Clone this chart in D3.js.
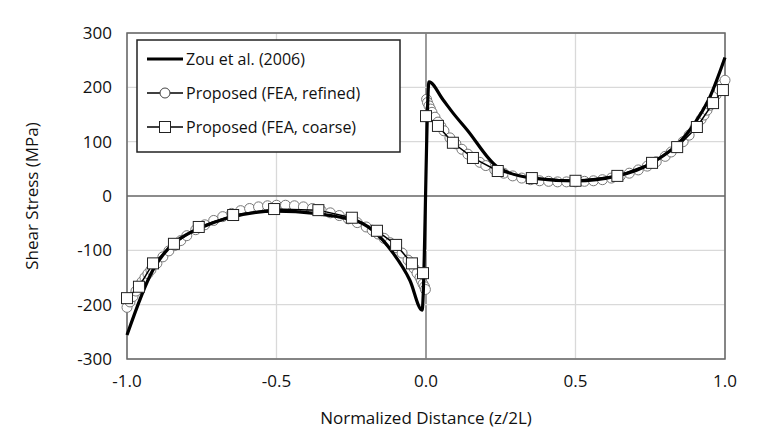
<!DOCTYPE html>
<html><head><meta charset="utf-8">
<script src="https://cdn.jsdelivr.net/npm/d3@7"></script>
<style>body{margin:0;background:#fff}text{font-family:"Open Sans","Noto Sans",sans-serif;fill:#111}</style>
</head><body><div id="chart"></div>
<script>
const zouX = [-1, -0.913, -0.756, -0.5, -0.244, -0.11, -0.054, -0.013, 0.01, 0.057, 0.09, 0.137, 0.24, 0.354, 0.5, 0.64, 0.756, 0.883, 0.95, 1.0];
const zouY = [-256, -136, -59, -28, -44, -105, -155, -210, 210, 177, 153, 122, 53, 33, 28, 37, 61, 122, 183, 255];

const refX = [-1,-0.99,-0.98,-0.97,-0.96,-0.95,-0.94,-0.93,-0.92,-0.90,-0.88,-0.86,-0.84,-0.82,-0.80,-0.77,-0.74,-0.71,-0.68,-0.65,-0.62,-0.59,-0.56,-0.53,-0.50,-0.47,-0.44,-0.41,-0.38,-0.35,-0.32,-0.29,-0.26,-0.23,-0.20,-0.18,-0.16,-0.14,-0.12,-0.10,-0.08,-0.06,-0.05,-0.04,-0.03,-0.02,-0.015,-0.01,-0.005,-0.002,
  0.002,0.005,0.01,0.015,0.02,0.03,0.04,0.05,0.06,0.08,0.10,0.12,0.14,0.16,0.18,0.20,0.23,0.26,0.29,0.32,0.35,0.38,0.41,0.44,0.47,0.50,0.53,0.56,0.59,0.62,0.65,0.68,0.71,0.74,0.77,0.80,0.82,0.84,0.86,0.88,0.90,0.92,0.93,0.94,0.95,0.96,0.97,0.98,0.99,1.0];
const refY = [-205,-195,-185,-175,-165,-158,-150,-143,-136,-124,-112,-101,-91,-82,-73,-62,-53,-45,-38,-32,-27,-23,-20,-18,-17,-17,-18,-20,-23,-27,-31,-36,-42,-49,-57,-63,-70,-78,-86,-95,-105,-118,-125,-133,-142,-150,-156,-162,-167,-172,
  178,172,166,160,154,145,136,128,120,107,96,86,77,69,62,56,48,42,37,33,30,28,27,26,26,26,27,28,30,33,37,42,48,55,63,73,81,90,100,112,126,141,149,158,167,176,186,196,205,213];

const coarseX = [-1, -0.96, -0.913, -0.843, -0.76, -0.645, -0.508, -0.36, -0.248, -0.164, -0.1, -0.047, -0.01,
  0.0, 0.04, 0.09, 0.157, 0.24, 0.354, 0.5, 0.64, 0.756, 0.84, 0.906, 0.96, 0.993];
const coarseY = [-188, -167, -124, -88, -57, -35, -24, -26, -40, -64, -90, -124, -142,
  147, 129, 98, 70, 46, 33, 28, 37, 61, 90, 127, 171, 195];

const xTicks = [-1, -0.5, 0, 0.5, 1];
const yTicks = [-300, -200, -100, 0, 100, 200, 300];
const legendLabels = ["Zou et al. (2006)", "Proposed (FEA, refined)", "Proposed (FEA, coarse)"];

const W = 772, H = 445;
const m = {left: 127, right: 47, top: 33, bottom: 86};
const svg = d3.select('#chart').append('svg').attr('width', W).attr('height', H);
const x = d3.scaleLinear().domain([-1, 1]).range([m.left, W - m.right]);
const y = d3.scaleLinear().domain([-300, 300]).range([H - m.bottom, m.top]);

// grid
svg.append('g').selectAll('line').data(xTicks).enter().append('line')
  .attr('x1', d => x(d)).attr('x2', d => x(d)).attr('y1', y(-300)).attr('y2', y(300))
  .attr('stroke', d => d === 0 ? '#666' : '#d9d9d9').attr('stroke-width', 1.3);
svg.append('g').selectAll('line').data(yTicks).enter().append('line')
  .attr('x1', x(-1)).attr('x2', x(1)).attr('y1', d => y(d)).attr('y2', d => y(d))
  .attr('stroke', d => d === 0 ? '#666' : '#d9d9d9').attr('stroke-width', 1.3);
svg.append('rect').attr('x', x(-1)).attr('y', y(300)).attr('width', x(1) - x(-1)).attr('height', y(-300) - y(300))
  .attr('fill', 'none').attr('stroke', '#666').attr('stroke-width', 1.5);

// tick labels
svg.append('g').selectAll('text').data(xTicks).enter().append('text')
  .attr('x', d => x(d)).attr('y', y(-300) + 28).attr('text-anchor', 'middle').attr('font-size', 17)
  .text(d => d.toFixed(1));
svg.append('g').selectAll('text').data(yTicks).enter().append('text')
  .attr('x', x(-1) - 15).attr('y', d => y(d) + 6).attr('text-anchor', 'end').attr('font-size', 17)
  .text(d => d);
svg.append('text').attr('x', x(0)).attr('y', 424).attr('text-anchor', 'middle').attr('font-size', 17)
  .text('Normalized Distance (z/2L)');
svg.append('text').attr('transform', `translate(38,${y(0)}) rotate(-90)`).attr('text-anchor', 'middle').attr('font-size', 17)
  .text('Shear Stress (MPa)');

const line = d3.line().x(d => x(d[0])).y(d => y(d[1]));
const refPts = d3.zip(refX, refY), coarsePts = d3.zip(coarseX, coarseY);

svg.append('path').datum(refPts.slice(0, 50)).attr('d', line).attr('fill', 'none').attr('stroke', '#000').attr('stroke-width', 1.5);
svg.append('path').datum(refPts.slice(50)).attr('d', line).attr('fill', 'none').attr('stroke', '#000').attr('stroke-width', 1.5);
svg.append('g').selectAll('circle').data(refPts).enter().append('circle')
  .attr('cx', d => x(d[0])).attr('cy', d => y(d[1])).attr('r', 5)
  .attr('fill', '#fff').attr('stroke', '#777').attr('stroke-width', 1);

svg.append('path').datum(d3.zip(zouX, zouY)).attr('d', d3.line().x(d => x(d[0])).y(d => y(d[1])).curve(d3.curveMonotoneX))
  .attr('fill', 'none').attr('stroke', '#000').attr('stroke-width', 3.2);

svg.append('path').datum(coarsePts.slice(0, 13)).attr('d', line).attr('fill', 'none').attr('stroke', '#000').attr('stroke-width', 1.5);
svg.append('path').datum(coarsePts.slice(13)).attr('d', line).attr('fill', 'none').attr('stroke', '#000').attr('stroke-width', 1.5);
svg.append('g').selectAll('rect').data(coarsePts).enter().append('rect')
  .attr('x', d => x(d[0]) - 5.5).attr('y', d => y(d[1]) - 5.5).attr('width', 11).attr('height', 11)
  .attr('fill', '#fff').attr('stroke', '#222').attr('stroke-width', 1);

// legend
const lg = svg.append('g');
lg.append('rect').attr('x', 137).attr('y', 40).attr('width', 263).attr('height', 112)
  .attr('fill', '#fff').attr('stroke', '#222').attr('stroke-width', 1.5);
legendLabels.forEach((t, i) => {
  const ly = 59 + i * 34;
  lg.append('line').attr('x1', 147).attr('x2', 183).attr('y1', ly).attr('y2', ly)
    .attr('stroke', '#000').attr('stroke-width', i === 0 ? 3.2 : 1.5);
  if (i === 1) lg.append('circle').attr('cx', 165).attr('cy', ly).attr('r', 5).attr('fill', '#fff').attr('stroke', '#444');
  if (i === 2) lg.append('rect').attr('x', 159.5).attr('y', ly - 5.5).attr('width', 11).attr('height', 11).attr('fill', '#fff').attr('stroke', '#222');
  lg.append('text').attr('x', 186).attr('y', ly + 6).attr('font-size', 16).text(t);
});
</script></body></html>
